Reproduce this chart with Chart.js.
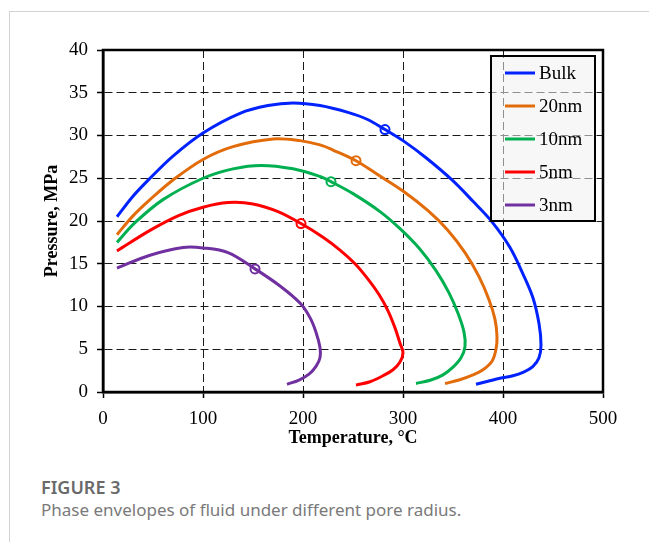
<!DOCTYPE html>
<html>
<head>
<meta charset="utf-8">
<script src="https://cdn.jsdelivr.net/npm/chart.js@4/dist/chart.umd.min.js"></script>
<style>
    body {
        margin: 0;
        width: 649px;
        height: 542px;
        overflow: hidden;
        position: relative;
        background: #fff;
        font-family: "Noto Sans", sans-serif;
    }
    .frame {
        position: absolute;
        left: 9px;
        top: 11px;
        right: 0;
        bottom: 0;
        border-left: 1px solid #d2d2d2;
        border-top: 1px solid #d2d2d2;
    }
    .chart-box {
        position: absolute;
        left: 0;
        top: 0;
        width: 649px;
        height: 455px;
    }
    .fig-no {
        position: absolute;
        left: 41px;
        top: 475px;
        font-size: 18px;
        font-weight: 600;
        color: #6a6a6a;
    }
    .fig-text {
        position: absolute;
        left: 41px;
        top: 498px;
        font-size: 17px;
        color: #7a7a7a;
    }
</style>
</head>
<body>
<div class="frame"></div>
<div class="chart-box"><canvas id="envelopeChart"></canvas></div>
<div class="fig-no">FIGURE 3</div>
<div class="fig-text">Phase envelopes of fluid under different pore radius.</div>

<script>
// series names and line colours
const seriesNames = ['Bulk', '20nm', '10nm', '5nm', '3nm'];
const seriesColors = ['#0022ff', '#e36c0a', '#00b050', '#ff0000', '#7030a0'];

// phase envelopes: temperature (°C) / pressure (MPa)
const bulkT = [14, 30, 47, 70, 100, 137, 165, 190, 217, 245, 264, 282, 300, 323, 349, 370, 389, 407, 420, 430, 436, 438, 436, 430, 420, 410, 397, 385, 373];
const bulkP = [20.5, 22.9, 25.0, 27.6, 30.3, 32.6, 33.5, 33.8, 33.5, 32.7, 31.9, 30.7, 29.4, 27.4, 24.8, 22.3, 19.9, 16.9, 13.8, 11.0, 8.0, 5.5, 4.0, 3.0, 2.3, 1.9, 1.6, 1.25, 0.9];

const nm20T = [14, 30, 47, 70, 100, 130, 170, 197, 217, 230, 253, 275, 300, 325, 345, 362, 376, 386, 392, 394, 393, 389, 380, 370, 356, 342];
const nm20P = [18.4, 20.6, 22.5, 24.8, 27.2, 28.7, 29.6, 29.4, 28.9, 28.3, 27.05, 25.4, 23.5, 21.2, 18.9, 16.3, 13.5, 10.8, 8.5, 6.5, 5.0, 3.6, 2.6, 2.0, 1.4, 1.0];

const nm10T = [14, 32, 60, 100, 130, 158, 190, 217, 228, 250, 277, 297, 317, 333, 346, 355, 361, 362, 358, 350, 340, 328, 313];
const nm10P = [17.5, 19.8, 22.5, 25.0, 26.1, 26.5, 26.1, 25.2, 24.6, 23.2, 21.1, 19.1, 16.7, 14.2, 11.6, 9.2, 7.0, 5.3, 4.0, 2.9, 2.0, 1.4, 1.0];

const nm5T = [14, 47, 75, 100, 125, 150, 175, 198, 220, 237, 252, 265, 276, 285, 292, 297, 300, 297, 290, 280, 267, 253];
const nm5P = [16.5, 18.9, 20.6, 21.6, 22.15, 22.0, 21.1, 19.7, 18.1, 16.6, 15.0, 13.2, 11.4, 9.5, 7.5, 5.7, 4.6, 3.5, 2.6, 1.9, 1.2, 0.8];

const nm3T = [14, 47, 80, 100, 125, 152, 177, 197, 207, 213, 217, 217, 213, 206, 196, 184];
const nm3P = [14.5, 16.0, 16.9, 16.85, 16.3, 14.4, 12.4, 10.4, 8.7, 7.0, 5.2, 4.0, 3.0, 2.1, 1.4, 0.9];

// critical points (open circles), same order as seriesNames
const critT = [282, 253, 228, 198, 152];
const critP = [30.7, 27.05, 24.6, 19.7, 14.4];

// axis ticks
const xTicks = [0, 100, 200, 300, 400, 500];
const yTicks = [0, 5, 10, 15, 20, 25, 30, 35, 40];

const serifFont = '"Liberation Serif", "Times New Roman", serif';

function toPoints(xs, ys) {
    return xs.map((x, i) => ({ x: x, y: ys[i] }));
}

function buildDatasets() {
    const curves = [
        [bulkT, bulkP],
        [nm20T, nm20P],
        [nm10T, nm10P],
        [nm5T, nm5P],
        [nm3T, nm3P]
    ];

    const datasets = curves.map((c, i) => ({
        label: seriesNames[i],
        data: toPoints(c[0], c[1]),
        showLine: true,
        borderColor: seriesColors[i],
        borderWidth: 3,
        pointRadius: 0,
        tension: 0.35,
        fill: false
    }));

    datasets.push({
        label: 'critical',
        data: toPoints(critT, critP),
        showLine: false,
        pointRadius: 4.5,
        pointBorderWidth: 2,
        pointBorderColor: seriesColors,
        pointBackgroundColor: '#ffffff'
    });

    return datasets;
}

// black frame round the plot area
const plotFrame = {
    id: 'plotFrame',
    afterDatasetsDraw(chart) {
        const { ctx, chartArea: a } = chart;
        ctx.save();
        ctx.strokeStyle = '#000';
        ctx.lineWidth = 2.5;
        ctx.setLineDash([]);
        ctx.strokeRect(a.left, a.top, a.right - a.left, a.bottom - a.top);
        ctx.restore();
    }
};

// boxed legend in the upper right corner of the plot
const boxLegend = {
    id: 'boxLegend',
    afterDatasetsDraw(chart) {
        const { ctx } = chart;
        const left = 491, top = 56, width = 104, height = 165;
        const rowGap = 33, firstRow = 73;

        ctx.save();
        ctx.fillStyle = 'rgba(240, 240, 240, 0.55)';
        ctx.fillRect(left, top, width, height);
        ctx.strokeStyle = '#000';
        ctx.lineWidth = 2;
        ctx.strokeRect(left, top, width, height);

        ctx.font = '19px ' + serifFont;
        ctx.textBaseline = 'middle';
        ctx.textAlign = 'left';
        seriesNames.forEach((name, i) => {
            const y = firstRow + i * rowGap;
            ctx.strokeStyle = seriesColors[i];
            ctx.lineWidth = 3;
            ctx.beginPath();
            ctx.moveTo(505, y);
            ctx.lineTo(535, y);
            ctx.stroke();
            ctx.fillStyle = '#000';
            ctx.fillText(name, 539, y + 1);
        });
        ctx.restore();
    }
};

function createEnvelopeChart() {
    const ctx = document.getElementById('envelopeChart').getContext('2d');

    new Chart(ctx, {
        type: 'scatter',
        data: { datasets: buildDatasets() },
        options: {
            responsive: true,
            maintainAspectRatio: false,
            animation: false,
            layout: {
                padding: { left: 0, right: 46, top: 50, bottom: 0 }
            },
            plugins: {
                legend: { display: false },
                tooltip: { enabled: false }
            },
            scales: {
                x: {
                    type: 'linear',
                    min: 0,
                    max: 500,
                    afterBuildTicks: axis => {
                        axis.ticks = xTicks.map(v => ({ value: v }));
                    },
                    afterFit: axis => {
                        axis.height = 63;
                    },
                    grid: {
                        color: '#1a1a1a',
                        lineWidth: 1,
                        tickLength: 6,
                        tickColor: '#000',
                        tickWidth: 1.5
                    },
                    border: {
                        display: true,
                        color: '#000',
                        width: 2.5,
                        dash: [8, 4]
                    },
                    ticks: {
                        padding: 10,
                        color: '#000',
                        font: { family: serifFont, size: 19 }
                    },
                    title: {
                        display: true,
                        text: 'Temperature, °C',
                        color: '#000',
                        padding: { top: 0, bottom: 6 },
                        font: { family: serifFont, size: 18, weight: 'bold' }
                    }
                },
                y: {
                    type: 'linear',
                    min: 0,
                    max: 40,
                    afterBuildTicks: axis => {
                        axis.ticks = yTicks.map(v => ({ value: v }));
                    },
                    afterFit: axis => {
                        axis.width = 103;
                    },
                    grid: {
                        color: '#1a1a1a',
                        lineWidth: 1,
                        tickLength: 6,
                        tickColor: '#000',
                        tickWidth: 1.5
                    },
                    border: {
                        display: true,
                        color: '#000',
                        width: 2.5,
                        dash: [8, 4]
                    },
                    ticks: {
                        padding: 9,
                        color: '#000',
                        font: { family: serifFont, size: 19 }
                    },
                    title: {
                        display: true,
                        text: 'Pressure, MPa',
                        color: '#000',
                        padding: { top: 42, bottom: 0 },
                        font: { family: serifFont, size: 18, weight: 'bold' }
                    }
                }
            }
        },
        plugins: [plotFrame, boxLegend]
    });
}

createEnvelopeChart();
</script>
</body>
</html>
